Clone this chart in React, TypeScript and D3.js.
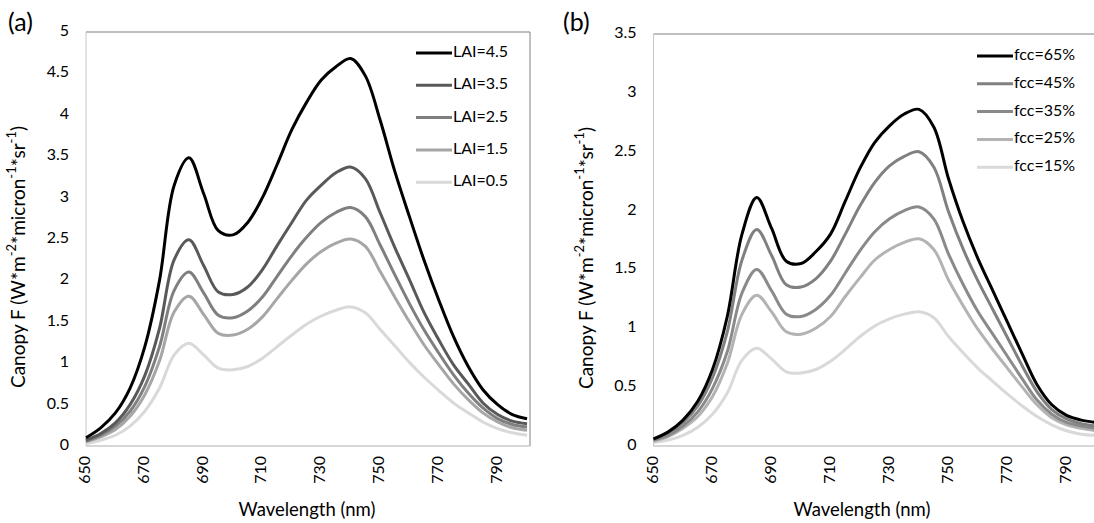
import React from "react";
import * as d3 from "d3";

const wavelengths = [650, 655, 660, 665, 670, 675, 680, 685, 690, 695, 700, 705, 710, 715, 720, 725, 730, 735, 740, 745, 750, 755, 760, 765, 770, 775, 780, 785, 790, 795, 800];

const laiLabels = ["LAI=4.5", "LAI=3.5", "LAI=2.5", "LAI=1.5", "LAI=0.5"];
const lai45 = [0.10, 0.22, 0.40, 0.70, 1.20, 2.00, 3.15, 3.48, 3.05, 2.60, 2.55, 2.70, 3.00, 3.40, 3.82, 4.15, 4.42, 4.58, 4.68, 4.47, 3.94, 3.32, 2.77, 2.24, 1.76, 1.32, 0.96, 0.68, 0.50, 0.38, 0.33];
const lai35 = [0.07, 0.15, 0.28, 0.50, 0.85, 1.42, 2.25, 2.49, 2.18, 1.86, 1.83, 1.92, 2.13, 2.42, 2.70, 2.97, 3.15, 3.30, 3.37, 3.23, 2.82, 2.40, 2.01, 1.61, 1.28, 0.98, 0.75, 0.52, 0.38, 0.30, 0.27];
const lai25 = [0.06, 0.13, 0.24, 0.42, 0.72, 1.20, 1.88, 2.10, 1.85, 1.58, 1.55, 1.63, 1.80, 2.05, 2.30, 2.52, 2.70, 2.82, 2.88, 2.77, 2.43, 2.07, 1.72, 1.40, 1.12, 0.86, 0.64, 0.46, 0.33, 0.26, 0.23];
const lai15 = [0.05, 0.11, 0.20, 0.36, 0.62, 1.03, 1.62, 1.81, 1.59, 1.36, 1.34, 1.41, 1.56, 1.78, 2.00, 2.20, 2.35, 2.45, 2.50, 2.41, 2.11, 1.80, 1.50, 1.22, 0.98, 0.75, 0.56, 0.40, 0.29, 0.22, 0.19];
const lai05 = [0.03, 0.07, 0.13, 0.24, 0.42, 0.70, 1.10, 1.24, 1.10, 0.94, 0.92, 0.96, 1.06, 1.20, 1.34, 1.47, 1.57, 1.64, 1.68, 1.61, 1.41, 1.21, 1.01, 0.83, 0.67, 0.52, 0.40, 0.29, 0.21, 0.16, 0.13];

const fccLabels = ["fcc=65%", "fcc=45%", "fcc=35%", "fcc=25%", "fcc=15%"];
const fcc65 = [0.06, 0.12, 0.22, 0.38, 0.65, 1.10, 1.80, 2.11, 1.85, 1.57, 1.55, 1.65, 1.80, 2.08, 2.36, 2.58, 2.72, 2.82, 2.86, 2.71, 2.27, 1.90, 1.59, 1.32, 1.05, 0.78, 0.52, 0.35, 0.26, 0.22, 0.20];
const fcc45 = [0.05, 0.11, 0.20, 0.34, 0.58, 0.97, 1.58, 1.84, 1.62, 1.37, 1.35, 1.42, 1.57, 1.80, 2.04, 2.24, 2.38, 2.46, 2.50, 2.37, 1.99, 1.67, 1.40, 1.16, 0.92, 0.68, 0.46, 0.31, 0.23, 0.19, 0.17];
const fcc35 = [0.05, 0.09, 0.17, 0.29, 0.49, 0.80, 1.30, 1.50, 1.32, 1.12, 1.10, 1.16, 1.28, 1.47, 1.66, 1.82, 1.93, 2.00, 2.03, 1.93, 1.63, 1.37, 1.14, 0.95, 0.76, 0.57, 0.39, 0.27, 0.20, 0.17, 0.15];
const fcc25 = [0.04, 0.08, 0.15, 0.25, 0.42, 0.70, 1.12, 1.28, 1.14, 0.97, 0.95, 1.00, 1.10, 1.27, 1.43, 1.58, 1.67, 1.73, 1.76, 1.67, 1.41, 1.19, 0.99, 0.82, 0.66, 0.50, 0.35, 0.24, 0.18, 0.15, 0.13];
const fcc15 = [0.03, 0.05, 0.09, 0.16, 0.27, 0.45, 0.73, 0.83, 0.74, 0.63, 0.62, 0.65, 0.72, 0.82, 0.93, 1.02, 1.08, 1.12, 1.14, 1.09, 0.93, 0.79, 0.66, 0.55, 0.44, 0.34, 0.25, 0.18, 0.13, 0.10, 0.09];

const xTicks = [650, 670, 690, 710, 730, 750, 770, 790];
const yTicksA = [0, 0.5, 1, 1.5, 2, 2.5, 3, 3.5, 4, 4.5, 5];
const yTicksB = [0, 0.5, 1, 1.5, 2, 2.5, 3, 3.5];

const laiColors = ["#000000", "#595959", "#7f7f7f", "#a6a6a6", "#d9d9d9"];
const fccColors = ["#000000", "#808080", "#8a8a8a", "#b3b3b3", "#d9d9d9"];

const FONT = "Lato, 'Open Sans', sans-serif";

type PanelProps = {
  tag: string;
  tagX: number;
  tagY: number;
  left: number;
  right: number;
  top: number;
  bottom: number;
  yMax: number;
  yTicks: number[];
  series: number[][];
  labels: string[];
  colors: string[];
  legendX: number;
  legendY: number;
  legendStep: number;
  yTitleX: number;
  xTitleX: number;
};

function Panel(p: PanelProps) {
  const x = d3.scaleLinear().domain([650, 801]).range([p.left, p.right]);
  const y = d3.scaleLinear().domain([0, p.yMax]).range([p.bottom, p.top]);
  const line = d3
    .line<number>()
    .x((_, i) => x(wavelengths[i]))
    .y((v) => y(v))
    .curve(d3.curveCatmullRom.alpha(0.5));
  const yFmt = (v: number) => String(v);
  const order = p.series.map((_, i) => i).reverse();
  const yMid = (p.top + p.bottom) / 2;
  return (
    <g fontFamily={FONT}>
      <text x={p.tagX} y={p.tagY} fontSize={25} fill="#000">{p.tag}</text>
      <line x1={p.left} x2={p.right} y1={p.top} y2={p.top} stroke="#808080" strokeWidth={1} />
      <line x1={p.right} x2={p.right} y1={p.top} y2={p.bottom} stroke="#808080" strokeWidth={1} />
      <line x1={p.left} x2={p.left} y1={p.top} y2={p.bottom} stroke="#c8c8c8" strokeWidth={1} />
      <line x1={p.left} x2={p.right} y1={p.bottom} y2={p.bottom} stroke="#c8c8c8" strokeWidth={1.5} />
      {p.yTicks.map((t) => (
        <text key={t} x={p.left - 17} y={y(t)} fontSize={16} textAnchor="end" dominantBaseline="middle" fill="#000">
          {yFmt(t)}
        </text>
      ))}
      {xTicks.map((t) => (
        <text
          key={t}
          transform={`translate(${x(t)},${p.bottom + 10}) rotate(-90)`}
          fontSize={16}
          textAnchor="end"
          dominantBaseline="middle"
          fill="#000"
        >
          {t}
        </text>
      ))}
      {order.map((i) => (
        <path key={i} d={line(p.series[i]) || ""} fill="none" stroke={p.colors[i]} strokeWidth={3} strokeLinejoin="round" />
      ))}
      {p.labels.map((l, i) => (
        <g key={l}>
          <line
            x1={p.legendX}
            x2={p.legendX + 36}
            y1={p.legendY + i * p.legendStep}
            y2={p.legendY + i * p.legendStep}
            stroke={p.colors[i]}
            strokeWidth={3}
          />
          <text x={p.legendX + 37} y={p.legendY + i * p.legendStep} fontSize={16} dominantBaseline="middle" fill="#000">
            {l}
          </text>
        </g>
      ))}
      <text
        transform={`translate(${p.yTitleX},${yMid + 18}) rotate(-90)`}
        fontSize={19}
        textAnchor="middle"
        dominantBaseline="middle"
        fill="#000"
      >
        Canopy F (W*m<tspan fontSize={13} dy={-7}>-2</tspan>
        <tspan dy={7}>*micron</tspan>
        <tspan fontSize={13} dy={-7}>-1</tspan>
        <tspan dy={7}>*sr</tspan>
        <tspan fontSize={13} dy={-7}>-1</tspan>
        <tspan dy={7}>)</tspan>
      </text>
      <text x={p.xTitleX} y={511} fontSize={18.5} textAnchor="middle" dominantBaseline="middle" fill="#000">
        Wavelength (nm)
      </text>
    </g>
  );
}

export default function App() {
  return (
    <svg
      width={1094}
      height={523}
      style={{ position: "absolute", left: 0, top: 0, background: "#fff", overflow: "hidden" }}
    >
      <rect x={0} y={0} width={1094} height={523} fill="#fff" />
      <Panel
        tag="(a)"
        tagX={8}
        tagY={31}
        left={86}
        right={530}
        top={32}
        bottom={446}
        yMax={5}
        yTicks={yTicksA}
        series={[lai45, lai35, lai25, lai15, lai05]}
        labels={laiLabels}
        colors={laiColors}
        legendX={416}
        legendY={53}
        legendStep={32.3}
        yTitleX={20}
        xTitleX={307}
      />
      <Panel
        tag="(b)"
        tagX={563}
        tagY={31}
        left={653.5}
        right={1099}
        top={34}
        bottom={446}
        yMax={3.5}
        yTicks={yTicksB}
        series={[fcc65, fcc45, fcc35, fcc25, fcc15]}
        labels={fccLabels}
        colors={fccColors}
        legendX={977}
        legendY={56}
        legendStep={27.8}
        yTitleX={588}
        xTitleX={862}
      />
    </svg>
  );
}
